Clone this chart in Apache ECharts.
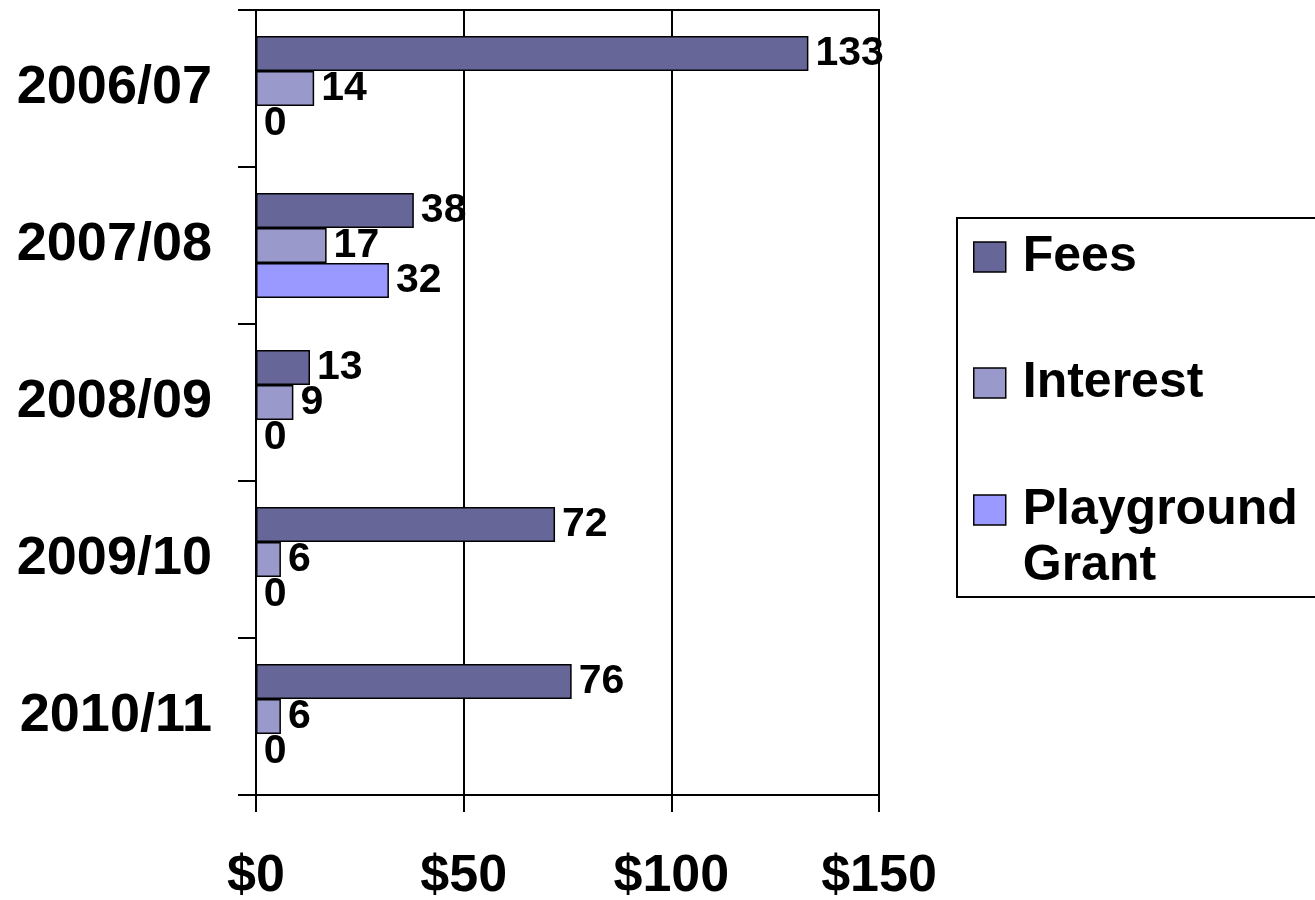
<!DOCTYPE html>
<html>
<head>
<meta charset="utf-8">
<script src="https://cdn.jsdelivr.net/npm/echarts@6/dist/echarts.min.js"></script>
<style>
  html, body { margin: 0; padding: 0; background: #fff; }
  #chart { width: 1315px; height: 900px; }
</style>
</head>
<body>
<div id="chart"></div>
<script>
const categories = ['2006/07', '2007/08', '2008/09', '2009/10', '2010/11']
const fees = [133, 38, 13, 72, 76]
const interest = [14, 17, 9, 6, 6]
const playground = [0, 32, 0, 0, 0]
const seriesNames = ['Fees', 'Interest', 'Playground Grant']
const colors = ['#666699', '#9999CC', '#9999FF']

const font = '"Liberation Sans", Arial, sans-serif'

const chart = echarts.init(document.getElementById('chart'))

function barSeries(name, data, color) {
  return {
    name: name,
    type: 'bar',
    data: data,
    barGap: '0%',
    barCategoryGap: '33%',
    itemStyle: { color: color, borderColor: '#000', borderWidth: 1.5 },
    label: {
      show: true,
      position: 'right',
      distance: 7,
      color: '#000',
      fontFamily: font,
      fontWeight: 'bold',
      fontSize: 41
    }
  }
}

// one legend per item so the two-line entry can sit like the original
function legendItem(name, top, formatter) {
  return {
    data: [name],
    left: 973,
    top: top,
    padding: 0,
    itemWidth: 32,
    itemHeight: 30,
    itemGap: 0,
    icon: 'rect',
    selectedMode: false,
    formatter: formatter,
    itemStyle: { borderColor: '#000', borderWidth: 1.5 },
    textStyle: {
      color: '#000',
      fontFamily: font,
      fontWeight: 'bold',
      fontSize: 50,
      lineHeight: 56,
      padding: [0, 0, 0, 12],
      rich: {
        e: { fontSize: 50, lineHeight: 56 }
      }
    }
  }
}

chart.setOption({
  animation: false,
  color: colors,
  grid: {
    left: 256,
    right: 436,
    top: 10,
    bottom: 105,
    outerBoundsMode: 'none',
    show: true,
    borderColor: '#000',
    borderWidth: 2,
    backgroundColor: 'transparent'
  },
  legend: [
    legendItem(seriesNames[0], 229),
    legendItem(seriesNames[1], 355),
    // empty first line pushes "Playground" level with its marker
    legendItem(seriesNames[2], 426, function() { return '{e| }\nPlayground\nGrant' })
  ],
  graphic: [{
    type: 'rect',
    shape: { x: 957, y: 218, width: 370, height: 379 },
    style: { fill: 'none', stroke: '#000', lineWidth: 2 },
    silent: true
  }],
  xAxis: {
    type: 'value',
    min: 0,
    max: 150,
    interval: 50,
    axisLine: { show: true, lineStyle: { color: '#000', width: 2 } },
    axisTick: { show: true, length: 17, lineStyle: { color: '#000', width: 2 } },
    splitLine: { show: true, lineStyle: { color: '#000', width: 2 } },
    axisLabel: {
      formatter: '${value}',
      color: '#000',
      fontFamily: font,
      fontWeight: 'bold',
      fontSize: 52,
      margin: 56
    }
  },
  yAxis: {
    type: 'category',
    data: categories,
    inverse: true,
    axisLine: { show: true, lineStyle: { color: '#000', width: 2 } },
    axisTick: { show: true, length: 18, lineStyle: { color: '#000', width: 2 } },
    splitLine: { show: false },
    axisLabel: {
      color: '#000',
      fontFamily: font,
      fontWeight: 'bold',
      fontSize: 54,
      margin: 44
    }
  },
  series: [
    barSeries(seriesNames[0], fees, colors[0]),
    barSeries(seriesNames[1], interest, colors[1]),
    barSeries(seriesNames[2], playground, colors[2])
  ]
})
</script>
</body>
</html>
